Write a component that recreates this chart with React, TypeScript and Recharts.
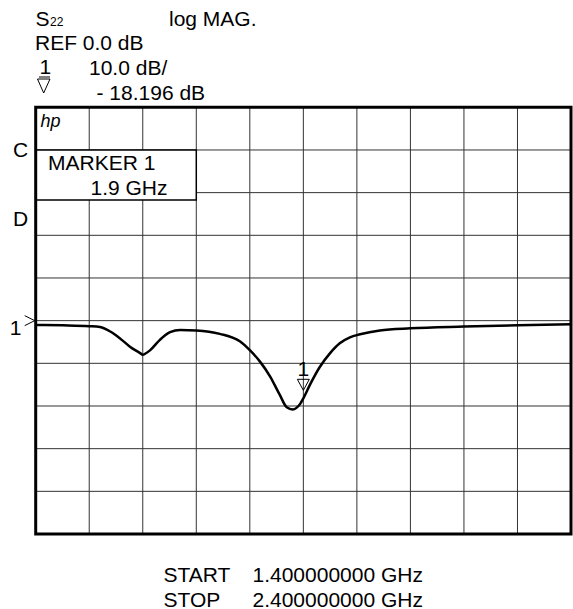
import React from "react";
import {
  LineChart,
  Line,
  XAxis,
  YAxis,
  CartesianGrid,
  ReferenceArea,
  ReferenceDot,
} from "recharts";

// Frequency (GHz) and S22 magnitude (dB)
const freqs = [
  1.4, 1.45, 1.5, 1.52, 1.54, 1.557, 1.576, 1.595, 1.6, 1.605, 1.614, 1.632,
  1.651, 1.67, 1.7, 1.744, 1.782, 1.8, 1.819, 1.838, 1.856, 1.869, 1.88, 1.894,
  1.9, 1.912, 1.931, 1.95, 1.968, 1.987, 2.006, 2.043, 2.1, 2.2, 2.3, 2.4,
];
const s22 = [
  -1.0, -1.1, -1.3, -1.5, -2.6, -4.1, -6.1, -7.6, -8.0, -7.7, -6.9, -4.5,
  -2.7, -2.2, -2.3, -3.1, -4.9, -6.9, -9.6, -13.1, -17.4, -20.3, -20.8, -19.5,
  -18.2, -15.1, -10.8, -7.6, -5.3, -3.9, -3.2, -2.3, -1.8, -1.4, -1.1, -0.85,
];

const freqTicks = [1.4, 1.5, 1.6, 1.7, 1.8, 1.9, 2.0, 2.1, 2.2, 2.3, 2.4];
const dbTicks = [-50, -40, -30, -20, -10, 0, 10, 20, 30, 40, 50];

const markerFreq = 1.9;
const markerDb = s22[freqs.indexOf(markerFreq)];
const refLevel = 0;

const headerParam = "S";
const headerSub = "22";
const formatLabel = "log MAG.";
const refLabel = "REF 0.0 dB";
const scaleLabel = "10.0 dB/";
const markerReadout = "- 18.196 dB";
const markerTitle = "MARKER 1";
const markerFreqLabel = "1.9 GHz";
const startLabel = "START";
const stopLabel = "STOP";
const startValue = "1.400000000 GHz";
const stopValue = "2.400000000 GHz";

const data = freqs.map((f, i) => ({ f, db: s22[i] }));

const FONT = "'Liberation Sans', Arial, sans-serif";
const FS = 21;

const MarkerShape = (props: any) => {
  const { cx, cy } = props;
  return (
    <g>
      <text x={cx} y={cy - 22} textAnchor="middle" fontSize={FS} fontFamily={FONT} fill="#000">
        1
      </text>
      <polygon
        points={`${cx - 6},${cy - 19} ${cx + 6},${cy - 19} ${cx},${cy - 8}`}
        fill="none"
        stroke="#000"
        strokeWidth={1}
      />
    </g>
  );
};

const RefShape = (props: any) => {
  const { cx, cy } = props;
  return (
    <g>
      <polyline
        points={`${cx - 11},${cy - 5} ${cx - 1},${cy} ${cx - 11},${cy + 5}`}
        fill="none"
        stroke="#000"
        strokeWidth={1}
      />
      <text x={cx - 26} y={cy + 14} fontSize={FS} fontFamily={FONT} fill="#000">
        1
      </text>
    </g>
  );
};

export default function App() {
  return (
    <div style={{ position: "absolute", left: 0, top: 0, width: 573, height: 609, background: "#fff" }}>
      <LineChart
        width={573}
        height={609}
        data={data}
        margin={{ top: 107.3, right: 2, bottom: 75, left: 35.7 }}
      >
        <XAxis type="number" dataKey="f" domain={[1.4, 2.4]} ticks={freqTicks} hide />
        <YAxis type="number" domain={[-50, 50]} ticks={dbTicks} hide />
        <CartesianGrid stroke="#333" strokeWidth={1} />
        <ReferenceArea
          x1={1.4}
          x2={1.7}
          y1={28.3}
          y2={40}
          fill="#fff"
          fillOpacity={1}
          stroke="#000"
          strokeWidth={1.5}
        />
        <ReferenceArea
          x1={1.4}
          x2={2.4}
          y1={-50}
          y2={50}
          fill="none"
          stroke="#000"
          strokeWidth={3}
        />
        <Line
          dataKey="db"
          type="monotone"
          stroke="#000"
          strokeWidth={2.5}
          dot={false}
          isAnimationActive={false}
        />
        <ReferenceDot x={markerFreq} y={markerDb} shape={MarkerShape} ifOverflow="visible" />
        <ReferenceDot x={1.4} y={refLevel} shape={RefShape} ifOverflow="visible" />
      </LineChart>
      <svg
        width={573}
        height={609}
        style={{ position: "absolute", left: 0, top: 0, pointerEvents: "none" }}
        fontFamily={FONT}
        fontSize={FS}
        fill="#000"
      >
        <text x={35.5} y={26}>{headerParam}</text>
        <text x={50} y={26} fontSize={12}>{headerSub}</text>
        <text x={169} y={26}>{formatLabel}</text>
        <text x={35} y={50}>{refLabel}</text>
        <text x={39.5} y={74}>1</text>
        <line x1={39} y1={77} x2={50} y2={77} stroke="#000" strokeWidth={1} />
        <polygon points="37.5,79 50,79 43.7,93" fill="none" stroke="#000" strokeWidth={1} />
        <text x={89} y={75}>{scaleLabel}</text>
        <text x={96.5} y={100}>{markerReadout}</text>
        <text x={40.5} y={127} fontSize={18} fontStyle="italic">hp</text>
        <text x={13} y={157}>C</text>
        <text x={13} y={226}>D</text>
        <text x={48} y={170}>{markerTitle}</text>
        <text x={90.5} y={195}>{markerFreqLabel}</text>
        <text x={163.5} y={581.7}>{startLabel}</text>
        <text x={252.5} y={581.7}>{startValue}</text>
        <text x={163.5} y={606.5}>{stopLabel}</text>
        <text x={252.5} y={606.5}>{stopValue}</text>
      </svg>
    </div>
  );
}
